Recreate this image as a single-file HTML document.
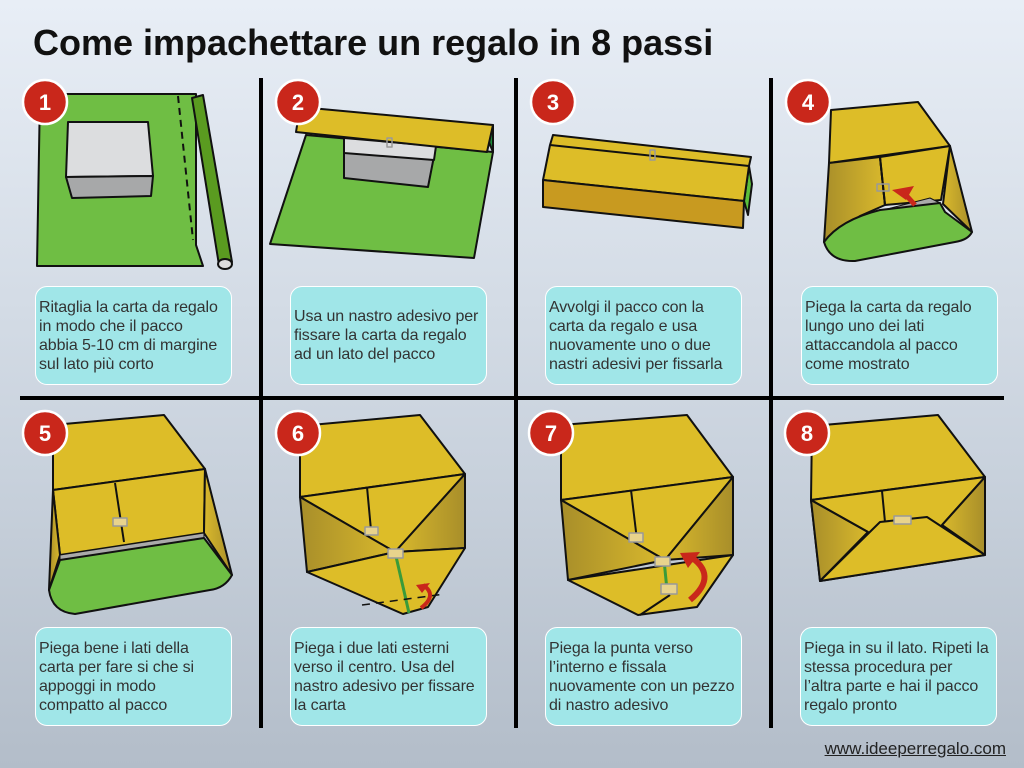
<!DOCTYPE html>
<html><head><meta charset="utf-8"><style>
body{margin:0;width:1024px;height:768px;overflow:hidden;font-family:"Liberation Sans",sans-serif;background:linear-gradient(#e8eef6,#c9d2dd 60%,#b3bdc9);position:relative}
h1{position:absolute;left:33px;top:22px;margin:0;font-size:36px;font-weight:bold;color:#111}
.t{position:absolute;width:197px;height:99px;background:#a0e6e8;border:1px solid #fff;border-radius:12px;box-sizing:border-box;font-size:16px;line-height:19px;color:#333;padding:0 0 0 3px;display:flex;align-items:center;white-space:nowrap;letter-spacing:-0.1px}
.url{position:absolute;right:18px;top:739px;font-size:17px;color:#222;text-decoration:underline}
svg{position:absolute;left:0;top:0}
</style></head><body>
<h1>Come impachettare un regalo in 8 passi</h1>
<svg width="1024" height="768" stroke="#111" stroke-width="2" stroke-linejoin="round">
<defs>
<linearGradient id="sl" x1="0" x2="1"><stop offset="0" stop-color="#a88e2a"/><stop offset="1" stop-color="#d9b92c"/></linearGradient>
<linearGradient id="sr" x1="0" x2="1"><stop offset="0" stop-color="#d9b92c"/><stop offset="1" stop-color="#a88e2a"/></linearGradient>
</defs>
<g stroke-width="4" stroke="#000"><line x1="261" y1="78" x2="261" y2="728"/><line x1="516" y1="78" x2="516" y2="728"/><line x1="771" y1="78" x2="771" y2="728"/><line x1="20" y1="398" x2="1004" y2="398"/></g>
<!-- 1 -->
<polygon points="40,94 196,94 196,245 203,266 196,266 37,266" fill="#6fbe44"/>
<line x1="178" y1="96" x2="193" y2="240" stroke-dasharray="7,5"/>
<polygon points="192,98 203,95 232,262 219,265" fill="#5a9b20"/>
<ellipse cx="225" cy="264" rx="7" ry="5" fill="#ddd"/>
<polygon points="68,122 148,122 153,176 66,177" fill="#dcdddf"/>
<polygon points="66,177 153,176 151,196 72,198" fill="#a7a8a9"/>
<!-- 2 -->
<polygon points="306,135 493,152 474,258 270,244" fill="#6fbe44"/>
<polygon points="484,130 493,125 493,152" fill="#1a8a3a"/>
<polygon points="344,138 436,146 428,187 344,178" fill="#a7a8a9"/>
<polygon points="344,138 436,146 434,160 344,153" fill="#dcdddf"/>
<polygon points="300,107 493,125 487,152 296,132" fill="#ddbd28"/>
<rect x="387" y="138" width="5" height="9" fill="none" stroke="#999" stroke-width="1.5"/>
<!-- 3 -->
<polygon points="749,166 752,184 748,215 744,201" fill="#5cbf3c"/>
<polygon points="553,135 751,157 749,166 744,201 543,180 550,145" fill="#ddbd28"/>
<line x1="550" y1="145" x2="749" y2="166"/>
<polygon points="543,180 744,201 743,228 543,207" fill="#c89a20"/>
<rect x="650" y="150" width="5" height="10" fill="none" stroke="#999" stroke-width="1.5"/>
<!-- 4 -->
<polygon points="831,110 918,102 950,146 829,163" fill="#ddbd28"/>
<polygon points="829,163 880,157 885,205 860,216 824,242" fill="url(#sl)"/>
<polygon points="880,157 950,146 941,200 885,205" fill="#ddbd28"/>
<line x1="880" y1="157" x2="885" y2="205"/>
<polygon points="950,146 972,232 943,204" fill="url(#sr)"/>
<polygon points="860,216 930,198 940,203" fill="#aaa" stroke-width="1"/>
<path d="M824,242 Q840,220 880,210 L940,203 L945,212 L972,232 Q968,240 955,242 L855,261 Q830,262 824,242Z" fill="#6fbe44"/>
<rect x="877" y="184" width="12" height="7" fill="none" stroke="#999" stroke-width="1.5"/>
<polygon points="892,190 914,186 906,200" fill="#c9271b" stroke="none"/>
<line x1="905" y1="194" x2="915" y2="205" stroke="#c9271b" stroke-width="5"/>
<!-- 5 -->
<polygon points="53,425 164,415 205,469 53,490" fill="#ddbd28"/>
<polygon points="53,490 205,469 204,533 60,555" fill="#ddbd28"/>
<line x1="115" y1="483" x2="124" y2="542"/>
<polygon points="53,490 60,555 49,590" fill="url(#sl)"/>
<polygon points="205,469 232,575 204,533" fill="url(#sr)"/>
<polygon points="60,555 204,533 204,538 60,560" fill="#aaa" stroke-width="1"/>
<path d="M60,560 L204,538 L232,575 Q225,588 210,590 L75,614 Q52,612 49,590Z" fill="#6fbe44"/>
<rect x="113" y="518" width="14" height="8" fill="#e8d38c" stroke="#999" stroke-width="1.5"/>
<!-- 6 -->
<polygon points="300,426 420,415 465,474 300,497" fill="#ddbd28"/>
<polygon points="300,497 465,474 395,552" fill="#ddbd28"/>
<polygon points="300,497 395,552 307,572" fill="url(#sl)"/>
<polygon points="465,474 465,548 395,552" fill="url(#sr)"/>
<line x1="367" y1="487" x2="371" y2="530"/>
<polygon points="307,572 395,552 465,548 428,607 403,614" fill="#ddbd28"/>
<line x1="395" y1="552" x2="409" y2="613" stroke="#3a9b3a" stroke-width="3"/>
<line x1="362" y1="605" x2="445" y2="594" stroke-dasharray="8,6" stroke-width="1.5"/>
<path d="M421,608 Q438,595 423,585" fill="none" stroke="#c9271b" stroke-width="4"/>
<polygon points="416,585 430,583 422,593" fill="#c9271b" stroke="none"/>
<rect x="365" y="527" width="13" height="8" fill="#e8d38c" stroke="#999" stroke-width="1.5"/>
<rect x="388" y="549" width="15" height="9" fill="#e8d38c" stroke="#999" stroke-width="1.5"/>
<!-- 7 -->
<polygon points="561,425 687,415 733,477 561,500" fill="#ddbd28"/>
<polygon points="561,500 733,477 665,560" fill="#ddbd28"/>
<polygon points="561,500 665,560 568,580" fill="url(#sl)"/>
<polygon points="733,477 733,555 665,560" fill="url(#sr)"/>
<line x1="631" y1="490" x2="637" y2="540"/>
<polygon points="568,580 733,555 697,607 638,615" fill="#ddbd28"/>
<line x1="640" y1="615" x2="670" y2="595"/>
<line x1="664" y1="560" x2="667" y2="590" stroke="#3a9b3a" stroke-width="3"/>
<path d="M690,600 Q720,575 688,555" fill="none" stroke="#c9271b" stroke-width="6"/>
<polygon points="680,553 700,552 688,568" fill="#c9271b" stroke="none"/>
<rect x="629" y="533" width="14" height="9" fill="#e8d38c" stroke="#999" stroke-width="1.5"/>
<rect x="655" y="557" width="15" height="9" fill="#e8d38c" stroke="#999" stroke-width="1.5"/>
<rect x="661" y="584" width="16" height="10" fill="#e8d38c" stroke="#999" stroke-width="1.5"/>
<!-- 8 -->
<polygon points="812,426 938,415 985,477 811,500" fill="#ddbd28"/>
<polygon points="811,500 985,477 985,555 820,581" fill="#ddbd28"/>
<polygon points="811,500 868,532 820,581" fill="url(#sl)"/>
<polygon points="985,477 942,525 985,555" fill="url(#sr)"/>
<line x1="811" y1="500" x2="868" y2="532"/>
<line x1="985" y1="477" x2="942" y2="525"/>
<line x1="882" y1="491" x2="885" y2="522"/>
<polygon points="820,581 880,522 927,517 985,555" fill="#ddbd28"/>
<rect x="894" y="516" width="17" height="8" fill="#e8d38c" stroke="#999" stroke-width="1.5"/>
<g fill="#c9271b" stroke="#fff" stroke-width="2.5">
<circle cx="45" cy="102" r="22"/><circle cx="298" cy="102" r="22"/><circle cx="553" cy="102" r="22"/><circle cx="808" cy="102" r="22"/>
<circle cx="45" cy="433" r="22"/><circle cx="298" cy="433" r="22"/><circle cx="551" cy="433" r="22"/><circle cx="807" cy="433" r="22"/>
</g>
<g fill="#fff" stroke="none" font-family="Liberation Sans" font-weight="bold" font-size="22" text-anchor="middle">
<text x="45" y="110">1</text><text x="298" y="110">2</text><text x="553" y="110">3</text><text x="808" y="110">4</text>
<text x="45" y="441">5</text><text x="298" y="441">6</text><text x="551" y="441">7</text><text x="807" y="441">8</text>
</g>
</svg>
<div class="t" style="left:35px;top:286px"><div>Ritaglia la carta da regalo<br>in modo che il pacco<br>abbia 5-10 cm di margine<br>sul lato più corto</div></div>
<div class="t" style="left:290px;top:286px"><div>Usa un nastro adesivo per<br>fissare la carta da regalo<br>ad un lato del pacco</div></div>
<div class="t" style="left:545px;top:286px"><div>Avvolgi il pacco con la<br>carta da regalo e usa<br>nuovamente uno o due<br>nastri adesivi per fissarla</div></div>
<div class="t" style="left:801px;top:286px"><div>Piega la carta da regalo<br>lungo uno dei lati<br>attaccandola al pacco<br>come mostrato</div></div>
<div class="t" style="left:35px;top:627px"><div>Piega bene i lati della<br>carta per fare si che si<br>appoggi in modo<br>compatto al pacco</div></div>
<div class="t" style="left:290px;top:627px"><div>Piega i due lati esterni<br>verso il centro. Usa del<br>nastro adesivo per fissare<br>la carta</div></div>
<div class="t" style="left:545px;top:627px"><div>Piega la punta verso<br>l’interno e fissala<br>nuovamente con un pezzo<br>di nastro adesivo</div></div>
<div class="t" style="left:800px;top:627px"><div>Piega in su il lato. Ripeti la<br>stessa procedura per<br>l’altra parte e hai il pacco<br>regalo pronto</div></div>
<div class="url">www.ideeperregalo.com</div>
</body></html>
